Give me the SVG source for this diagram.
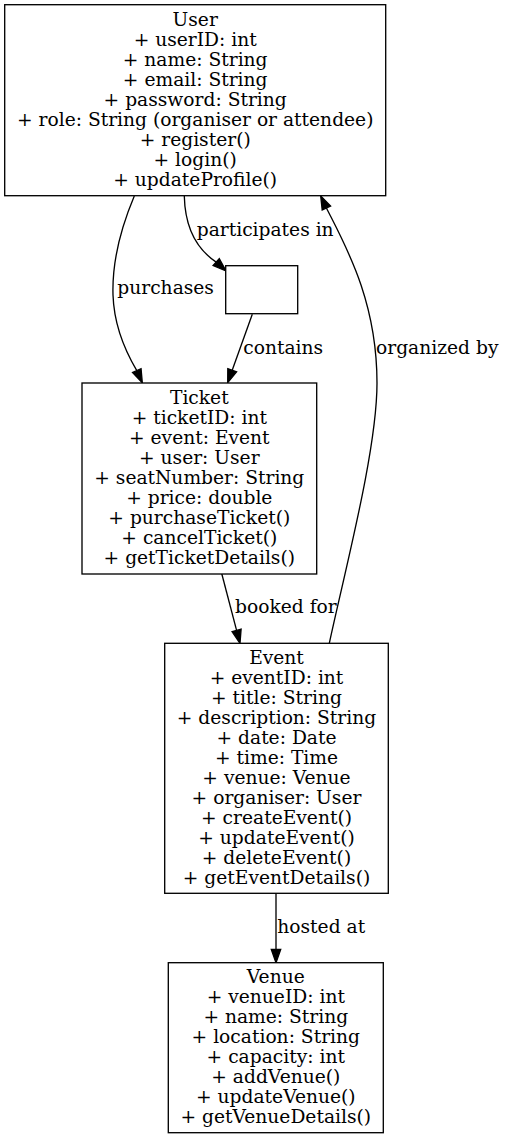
<svg xmlns="http://www.w3.org/2000/svg" width="505" height="1140" viewBox="0 0 505 1140">
<style>
text { font-family: "DejaVu Serif", "Liberation Serif", serif; font-size: 18.67px; fill: #000; }
.node text { text-anchor: middle; }
.box { fill: #fff; stroke: #000; stroke-width: 1.33; }
.edge { fill: none; stroke: #000; stroke-width: 1.33; }
.head { fill: #000; stroke: #000; stroke-width: 1.33; }
</style>
<rect x="0" y="0" width="505" height="1140" fill="#fff"/>
<g id="connectors">
  <path class="edge" d="M134.3,196 C120,230 112,262 113,295 C114,325 124,349 136.8,370.6"/>
  <polygon class="head" points="142.3,382.7 132.55,372.5 141.05,368.7"/>
  <text x="117.3" y="294.3">purchases</text>

  <path class="edge" d="M184.3,196 C185,225 195,248 216.2,262.1"/>
  <polygon class="head" points="226,271 213.1,265.6 219.3,258.6"/>
  <text x="196.7" y="235.7">participates in</text>

  <path class="edge" d="M252.3,314.3 L232.2,370.2"/>
  <polygon class="head" points="227.7,382.7 227.8,368.6 236.6,371.8"/>
  <text x="243.3" y="354">contains</text>

  <path class="edge" d="M221.7,573.5 L236.6,630.4"/>
  <polygon class="head" points="240,643.3 232.1,631.6 241.1,629.2"/>
  <text x="235" y="613.3">booked for</text>

  <path class="edge" d="M329.3,643.3 C345,570 377,450 377,383 C377,300 345,245 326.4,208"/>
  <polygon class="head" points="320.7,196 330.6,206 322.2,210"/>
  <text x="376" y="354">organized by</text>

  <path class="edge" d="M276,893.3 L276,949.4"/>
  <polygon class="head" points="276,962.7 271.3,949.4 280.7,949.4"/>
  <text x="277.3" y="933.3">hosted at</text>
</g>
<g id="User" class="node">
  <rect class="box" x="4.7" y="4.7" width="381" height="191"/>
  <text x="195.2" y="25.8">User</text>
  <text x="195.2" y="45.8">+ userID: int</text>
  <text x="195.2" y="65.8">+ name: String</text>
  <text x="195.2" y="85.8">+ email: String</text>
  <text x="195.2" y="105.8">+ password: String</text>
  <text x="195.2" y="125.8">+ role: String (organiser or attendee)</text>
  <text x="195.2" y="145.8">+ register()</text>
  <text x="195.2" y="165.8">+ login()</text>
  <text x="195.2" y="185.8">+ updateProfile()</text>
</g>
<g id="Join" class="node">
  <rect class="box" x="225.7" y="265.7" width="72" height="48"/>
</g>
<g id="Ticket" class="node">
  <rect class="box" x="82" y="383" width="234.7" height="191"/>
  <text x="199.3" y="404">Ticket</text>
  <text x="199.3" y="424">+ ticketID: int</text>
  <text x="199.3" y="444">+ event: Event</text>
  <text x="199.3" y="464">+ user: User</text>
  <text x="199.3" y="484">+ seatNumber: String</text>
  <text x="199.3" y="504">+ price: double</text>
  <text x="199.3" y="524">+ purchaseTicket()</text>
  <text x="199.3" y="544">+ cancelTicket()</text>
  <text x="199.3" y="564">+ getTicketDetails()</text>
</g>
<g id="Event" class="node">
  <rect class="box" x="164.7" y="643.3" width="223.6" height="250"/>
  <text x="276.5" y="664.4">Event</text>
  <text x="276.5" y="684.4">+ eventID: int</text>
  <text x="276.5" y="704.4">+ title: String</text>
  <text x="276.5" y="724.4">+ description: String</text>
  <text x="276.5" y="744.4">+ date: Date</text>
  <text x="276.5" y="764.4">+ time: Time</text>
  <text x="276.5" y="784.4">+ venue: Venue</text>
  <text x="276.5" y="804.4">+ organiser: User</text>
  <text x="276.5" y="824.4">+ createEvent()</text>
  <text x="276.5" y="844.4">+ updateEvent()</text>
  <text x="276.5" y="864.4">+ deleteEvent()</text>
  <text x="276.5" y="884.4">+ getEventDetails()</text>
</g>
<g id="Venue" class="node">
  <rect class="box" x="168.3" y="962.7" width="215" height="170"/>
  <text x="275.8" y="983.3">Venue</text>
  <text x="275.8" y="1003.3">+ venueID: int</text>
  <text x="275.8" y="1023.3">+ name: String</text>
  <text x="275.8" y="1043.3">+ location: String</text>
  <text x="275.8" y="1063.3">+ capacity: int</text>
  <text x="275.8" y="1083.3">+ addVenue()</text>
  <text x="275.8" y="1103.3">+ updateVenue()</text>
  <text x="275.8" y="1123.3">+ getVenueDetails()</text>
</g>
</svg>
